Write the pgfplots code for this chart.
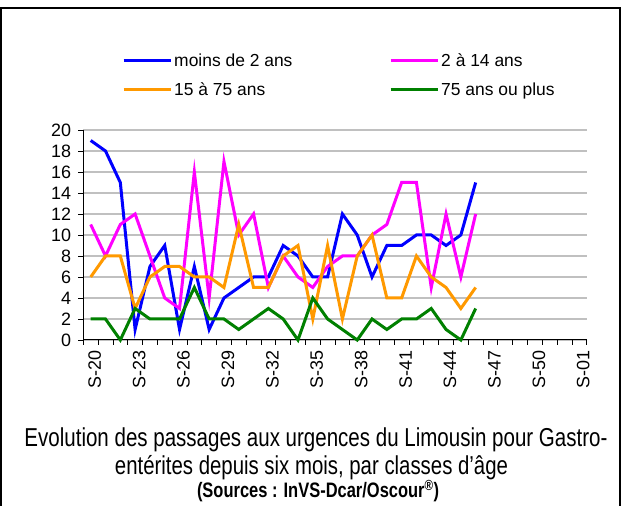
\documentclass[border=0pt]{standalone}
\usepackage{fontspec}
\setmainfont{Liberation Sans}
\usepackage{graphicx}
\usepackage{pgfplots}
\usepackage{pgfplotstable}
\pgfplotsset{compat=1.18}
\definecolor{cblue}{HTML}{0000FF}
\definecolor{cmag}{HTML}{FF00FF}
\definecolor{corange}{HTML}{FF9900}
\definecolor{cgreen}{HTML}{008000}
\definecolor{cgrid}{HTML}{C0C0C0}

\pgfplotstableread{
i a b c d
0 19 11 6 2
1 18 8 8 2
2 15 11 8 0
3 1 12 3 3
4 7 8 6 2
5 9 4 7 2
6 1 3 7 2
7 7 16 6 5
8 1 4 6 2
9 4 17 5 2
10 5 10 11 1
11 6 12 5 2
12 6 5 5 3
13 9 8 8 2
14 8 6 9 0
15 6 5 2 4
16 6 7 9 2
17 12 8 2 1
18 10 8 8 0
19 6 10 10 2
20 9 11 4 1
21 9 15 4 2
22 10 15 8 2
23 10 5 6 3
24 9 12 5 1
25 10 6 3 0
26 15 12 5 3
}\data

\begin{document}
\begin{tikzpicture}[x=1bp,y=1bp]
\path[use as bounding box] (0,0) rectangle (621,506);
\draw[line width=2bp] (1,0) -- (1,497.5) -- (619.5,497.5) -- (619.5,0);
\begin{axis}[
  at={(83.3bp,166bp)}, anchor=south west,
  scale only axis, width=503.4bp, height=210bp,
  xmin=-0.5, xmax=33.5, ymin=0, ymax=20,
  axis lines*=left,
  axis line style={black, line width=1bp},
  clip=false,
  ytick={0,2,...,20},
  xtick={-0.5,0.5,...,33.5}, xticklabels={},
  extra x ticks={0,3,...,33},
  extra x tick labels={S-20,S-23,S-26,S-29,S-32,S-35,S-38,S-41,S-44,S-47,S-50,S-01},
  extra x tick style={major tick length=0pt, xticklabel style={rotate=90, anchor=east, inner sep=0pt, xshift=-10.5bp, yshift=-4bp}},
  tick align=outside, major tick length=5bp,
  tick style={black, line width=0.8bp},
  ymajorgrids, grid style={cgrid, line width=1.5bp},
  ticklabel style={font=\fontsize{18}{20}\selectfont},
  yticklabel style={inner sep=0pt, xshift=-7bp},
  /pgf/number format/assume math mode=true,
  legend columns=2,
  legend cell align=left,
  legend image code/.code={\draw[#1] (0bp,0bp) -- (47bp,0bp);},
  legend style={draw=none, fill=none, font=\fontsize{17.5}{19}\selectfont,
    at={(0.071,1.38)}, anchor=north west, row sep=13bp,
    nodes={inner xsep=2bp, inner ysep=1bp}},
  every axis plot/.append style={line width=3bp, mark=none},
]
\addplot[cblue] table[x=i, y=a] {\data};
\addlegendentry{\makebox[213bp][l]{moins de 2 ans}}
\addplot[cmag] table[x=i, y=b] {\data};
\addlegendentry{2 à 14 ans}
\addplot[corange] table[x=i, y=c] {\data};
\addlegendentry{15 à 75 ans}
\addplot[cgreen] table[x=i, y=d] {\data};
\addlegendentry{75 ans ou plus}
\end{axis}
\node[anchor=base] at (316,59.8) {\resizebox{583bp}{\height}{\fontsize{26}{28}\selectfont Evolution des passages aux urgences du Limousin pour Gastro-}};
\node[anchor=base] at (311.5,31.8) {\resizebox{393bp}{\height}{\fontsize{26}{28}\selectfont entérites depuis six mois, par classes d’âge}};
\node[anchor=base] at (318,8) {\resizebox{242bp}{\height}{\fontsize{21}{23}\selectfont\bfseries (Sources : InVS-Dcar/Oscour\textsuperscript{®})}};
\end{tikzpicture}
\end{document}
